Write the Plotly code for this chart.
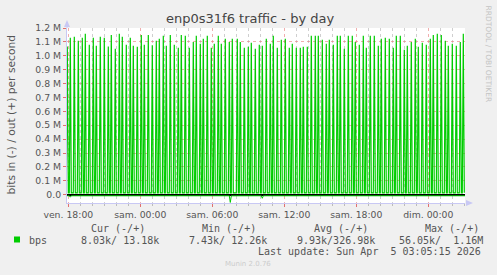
import plotly.graph_objects as go
from datetime import datetime, timedelta

# ---------------- data ----------------
spike_time = [
    "2026-04-03 17:55", "2026-04-03 18:10", "2026-04-03 18:30", "2026-04-03 18:50", "2026-04-03 19:10",
    "2026-04-03 19:25", "2026-04-03 19:45", "2026-04-03 20:05", "2026-04-03 20:20", "2026-04-03 20:40",
    "2026-04-03 21:00", "2026-04-03 21:20", "2026-04-03 21:35", "2026-04-03 21:55", "2026-04-03 22:15",
    "2026-04-03 22:30", "2026-04-03 22:50", "2026-04-03 23:10", "2026-04-03 23:25", "2026-04-03 23:45",
    "2026-04-04 00:05", "2026-04-04 00:20", "2026-04-04 00:40", "2026-04-04 01:00", "2026-04-04 01:20",
    "2026-04-04 01:35", "2026-04-04 01:55", "2026-04-04 02:10", "2026-04-04 02:30", "2026-04-04 02:50",
    "2026-04-04 03:10", "2026-04-04 03:25", "2026-04-04 03:45", "2026-04-04 04:05", "2026-04-04 04:25",
    "2026-04-04 04:40", "2026-04-04 05:00", "2026-04-04 05:15", "2026-04-04 05:35", "2026-04-04 05:55",
    "2026-04-04 06:10", "2026-04-04 06:30", "2026-04-04 06:45", "2026-04-04 07:05", "2026-04-04 07:25",
    "2026-04-04 07:40", "2026-04-04 08:05", "2026-04-04 08:20", "2026-04-04 08:40", "2026-04-04 09:00",
    "2026-04-04 09:15", "2026-04-04 09:35", "2026-04-04 09:55", "2026-04-04 10:10", "2026-04-04 10:30",
    "2026-04-04 10:50", "2026-04-04 11:05", "2026-04-04 11:25", "2026-04-04 11:45", "2026-04-04 12:05",
    "2026-04-04 12:25", "2026-04-04 12:40", "2026-04-04 13:00", "2026-04-04 13:20", "2026-04-04 13:35",
    "2026-04-04 13:55", "2026-04-04 14:15", "2026-04-04 14:35", "2026-04-04 14:50", "2026-04-04 15:10",
    "2026-04-04 15:30", "2026-04-04 15:45", "2026-04-04 16:05", "2026-04-04 16:25", "2026-04-04 16:40",
    "2026-04-04 17:00", "2026-04-04 17:20", "2026-04-04 17:40", "2026-04-04 17:55", "2026-04-04 18:15",
    "2026-04-04 18:35", "2026-04-04 18:50", "2026-04-04 19:10", "2026-04-04 19:30", "2026-04-04 19:50",
    "2026-04-04 20:05", "2026-04-04 20:25", "2026-04-04 20:45", "2026-04-04 21:05", "2026-04-04 21:20",
    "2026-04-04 21:40", "2026-04-04 22:00", "2026-04-04 22:15", "2026-04-04 22:35", "2026-04-04 22:55",
    "2026-04-04 23:10", "2026-04-04 23:30", "2026-04-04 23:50", "2026-04-05 00:10", "2026-04-05 00:25",
    "2026-04-05 00:45", "2026-04-05 01:05", "2026-04-05 01:25", "2026-04-05 01:40", "2026-04-05 02:00",
    "2026-04-05 02:20", "2026-04-05 02:40", "2026-04-05 02:55",
]
spike_peak_M = [
    1.067, 1.130, 1.137, 1.108, 1.130, 1.158, 1.080, 1.130, 1.072, 1.137,
    1.130, 1.067, 1.150, 1.050, 1.158, 1.137, 1.080, 1.130, 1.072, 1.065,
    1.150, 1.080, 1.150, 1.075, 1.108, 1.122, 1.144, 1.072, 1.150, 1.080,
    1.057, 1.150, 1.144, 1.057, 1.100, 1.144, 1.087, 1.122, 1.144, 1.057,
    1.087, 1.144, 1.087, 1.122, 1.100, 1.122, 1.122, 1.100, 1.057, 1.065,
    1.094, 1.050, 1.080, 1.072, 1.122, 1.087, 1.144, 1.057, 1.115, 1.122,
    1.057, 1.087, 1.057, 1.057, 1.065, 1.065, 1.144, 1.144, 1.144, 1.115,
    1.087, 1.115, 1.080, 1.144, 1.144, 1.050, 1.144, 1.144, 1.100, 1.080,
    1.144, 1.057, 1.144, 1.144, 1.072, 1.122, 1.130, 1.122, 1.057, 1.144,
    1.144, 1.044, 1.072, 1.100, 1.122, 1.065, 1.094, 1.080, 1.122, 1.150,
    1.158, 1.150, 1.108, 1.072, 1.087, 1.072, 1.100, 1.158,
]
out_base_k = 13.18          # out (+) baseline between bursts, kbit/s

in_time = ["2026-04-03 17:55", "2026-04-03 18:05", "2026-04-03 18:10", "2026-04-03 18:15",
           "2026-04-04 07:25", "2026-04-04 07:30", "2026-04-04 07:35",
           "2026-04-04 10:05", "2026-04-04 10:10", "2026-04-04 10:15",
           "2026-04-05 03:05"]
in_val_k = [7.9, 8.2, 18.0, 8.1, 8.0, 56.05, 8.3, 8.0, 26.0, 8.1, 8.03]

x_tick_time = ["2026-04-03 18:00", "2026-04-04 00:00", "2026-04-04 06:00",
               "2026-04-04 12:00", "2026-04-04 18:00", "2026-04-05 00:00"]
x_tick_text = ["ven. 18:00", "sam. 00:00", "sam. 06:00", "sam. 12:00", "sam. 18:00", "dim. 00:00"]
y_tick_vals_M = [0.0, 0.1, 0.2, 0.3, 0.4, 0.5, 0.6, 0.7, 0.8, 0.9, 1.0, 1.1, 1.2]
y_tick_text = ["0.0", "0.1 M", "0.2 M", "0.3 M", "0.4 M", "0.5 M", "0.6 M", "0.7 M",
               "0.8 M", "0.9 M", "1.0 M", "1.1 M", "1.2 M"]

legend_headers = ["Cur (-/+)", "Min (-/+)", "Avg (-/+)", "Max (-/+)"]
legend_values = ["8.03k/ 13.18k", "7.43k/ 12.26k", "9.93k/326.98k", "56.05k/  1.16M"]
last_update = "Last update: Sun Apr  5 03:05:15 2026"

# ---------------- build traces ----------------
fmt = "%Y-%m-%d %H:%M"
step = timedelta(minutes=5)
x_start = datetime(2026, 4, 3, 17, 53, 30)
x_end = datetime(2026, 4, 5, 3, 3, 30)

out_x, out_y = [], []
for t, p in zip(spike_time, spike_peak_M):
    tt = datetime.strptime(t, fmt)
    out_x += [tt - step, tt, tt + step]
    out_y += [out_base_k * 1000, p * 1e6, out_base_k * 1000]

in_x = [datetime.strptime(t, fmt) for t in in_time]
in_y = [-v * 1000 for v in in_val_k]

GREEN = "#00cc00"
fig = go.Figure()
fig.add_trace(go.Scatter(x=in_x, y=in_y, mode="lines", line=dict(color=GREEN, width=1),
                         showlegend=False, hoverinfo="skip"))
fig.add_trace(go.Scatter(x=out_x, y=out_y, mode="lines", line=dict(color=GREEN, width=1.2),
                         showlegend=False, hoverinfo="skip"))

# ---------------- layout helpers ----------------
W, H = 497, 275
L, R, T, B = 67, 32, 28, 72
PW, PH = W - L - R, H - T - B


def px(x):
    return (x - L) / PW


def py(y):
    return (H - B - y) / PH


major_ticks = [datetime.strptime(t, fmt) for t in x_tick_time]

minor_ticks = []
t = datetime(2026, 4, 3, 18, 0)
while t <= x_end:
    if t not in major_ticks:
        minor_ticks.append(t)
    t += timedelta(hours=1)

TICKFONT = dict(family="DejaVu Sans", size=9.3, color="#555555")
MONO = dict(family="DejaVu Sans Mono", size=10, color="#555555")
AXISCOL = "#c8c8f4"
REDGRID = "rgba(230,120,120,0.6)"

fig.update_layout(
    width=W, height=H,
    margin=dict(l=L, r=R, t=T, b=B, pad=0),
    paper_bgcolor="#f0f0f0", plot_bgcolor="#ffffff",
    showlegend=False,
    xaxis=dict(
        type="date", range=[x_start, x_end],
        tickmode="array", tickvals=major_ticks, ticktext=x_tick_text,
        showgrid=True, gridcolor=REDGRID, griddash="dot", gridwidth=1,
        ticks="outside", ticklen=3, tickcolor="#e07070", tickwidth=1,
        tickfont=TICKFONT,
        minor=dict(tickmode="array", tickvals=minor_ticks, showgrid=True,
                   gridcolor="#cfcfcf", griddash="dot", gridwidth=1,
                   ticks="outside", ticklen=2, tickcolor="#bbbbbb"),
        showline=True, linecolor=AXISCOL, linewidth=1,
        zeroline=False, fixedrange=True,
    ),
    yaxis=dict(
        range=[-60000, 1200000],
        tickmode="array", tickvals=[v * 1e6 for v in y_tick_vals_M], ticktext=y_tick_text,
        showgrid=True, gridcolor=REDGRID, griddash="dot", gridwidth=1,
        ticks="outside", ticklen=3, tickcolor="#e07070",
        tickfont=TICKFONT,
        showline=True, linecolor=AXISCOL, linewidth=1,
        zeroline=True, zerolinecolor="#000000", zerolinewidth=2,
        fixedrange=True,
    ),
)

ann = []
ann.append(dict(text="enp0s31f6 traffic - by day", x=px(250), y=py(18.5), xref="paper", yref="paper",
                xanchor="center", yanchor="middle", showarrow=False,
                font=dict(family="DejaVu Sans", size=13, color="#444444")))
ann.append(dict(text="bits in (-) / out (+) per second", x=px(10.5), y=py(115), xref="paper", yref="paper",
                xanchor="center", yanchor="middle", showarrow=False, textangle=-90,
                font=dict(family="DejaVu Sans", size=10.7, color="#555555")))
ann.append(dict(text="RRDTOOL / TOBI OETIKER", x=px(488), y=py(53.5), xref="paper", yref="paper",
                xanchor="center", yanchor="middle", showarrow=False, textangle=90,
                font=dict(family="DejaVu Sans", size=7.5, color="#c4c4c4")))
header_x = [89.3, 200, 312.3, 422.7]
value_x = [78.7, 187, 295, 397.3]
for hx, h in zip(header_x, legend_headers):
    ann.append(dict(text=h, x=px(hx), y=py(228), xref="paper", yref="paper", xanchor="left",
                    yanchor="middle", showarrow=False, font=MONO))
for vx, v in zip(value_x, legend_values):
    ann.append(dict(text=v.replace(" ", "&nbsp;"), x=px(vx), y=py(240), xref="paper", yref="paper",
                    xanchor="left", yanchor="middle", showarrow=False, font=MONO))
ann.append(dict(text="bps", x=px(26.5), y=py(240), xref="paper", yref="paper", xanchor="left",
                yanchor="middle", showarrow=False, font=MONO))
ann.append(dict(text=last_update.replace(" ", "&nbsp;"), x=px(483), y=py(251), xref="paper", yref="paper",
                xanchor="right", yanchor="middle", showarrow=False, font=MONO))
ann.append(dict(text="Munin 2.0.76", x=px(222.7), y=py(264.3), xref="paper", yref="paper",
                xanchor="left", yanchor="middle", showarrow=False,
                font=dict(family="DejaVu Sans", size=7, color="#cccccc")))
fig.update_layout(annotations=ann)

shapes = []
# legend colour swatch
shapes.append(dict(type="rect", xref="paper", yref="paper", x0=px(14), x1=px(20), y0=py(242.5), y1=py(236.5),
                   fillcolor=GREEN, line=dict(width=0)))
# axis arrows
shapes.append(dict(type="path", xref="paper", yref="paper",
                   path=f"M {px(64)} {py(27)} L {px(70)} {py(27)} L {px(67)} {py(20)} Z",
                   fillcolor=AXISCOL, line=dict(width=0)))
shapes.append(dict(type="line", xref="paper", yref="paper", x0=px(67), x1=px(67), y0=py(28), y1=py(22),
                   line=dict(color=AXISCOL, width=1)))
shapes.append(dict(type="path", xref="paper", yref="paper",
                   path=f"M {px(466)} {py(200)} L {px(466)} {py(206)} L {px(473)} {py(203)} Z",
                   fillcolor=AXISCOL, line=dict(width=0)))
fig.update_layout(shapes=shapes)

fig.write_html("out.html", config={"displayModeBar": False, "staticPlot": True})
